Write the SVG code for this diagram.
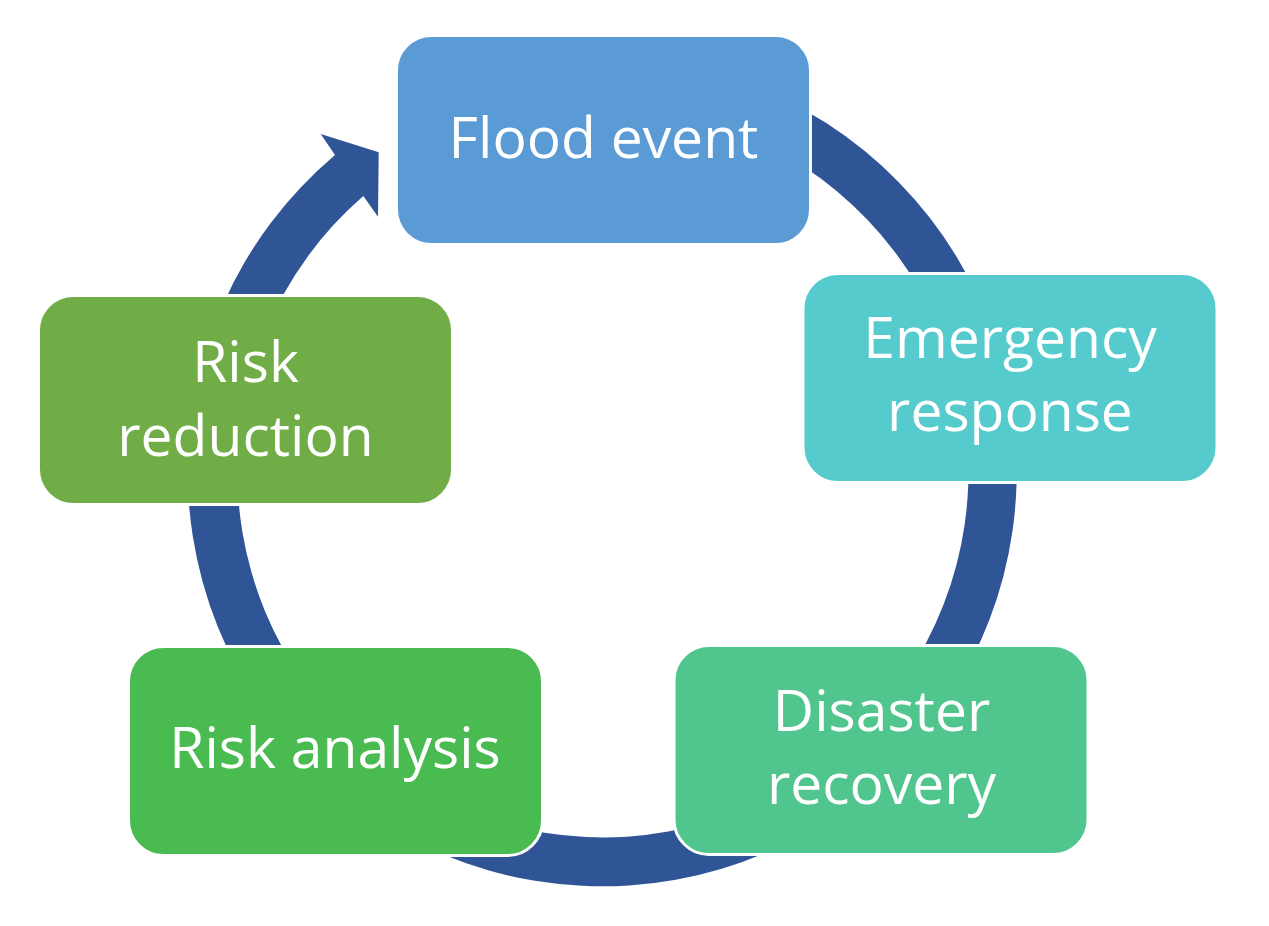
<svg xmlns="http://www.w3.org/2000/svg" width="1269" height="926" viewBox="0 0 1269 926">
<style>
.box{stroke:#FFFFFF;stroke-width:3}
.lbl{font-family:"Open Sans","Noto Sans","Liberation Sans",sans-serif;font-size:57px;fill:#FFFFFF;text-anchor:middle}
</style>
<rect x="0" y="0" width="1269" height="926" fill="#FFFFFF"/>
<g id="connectors">
<path d="M 650 60.1 A 414.5 414.5 0 1 1 335 155 L 320.7 134 L 378.7 152.3 L 378 216.7 L 363.3 196 A 365.5 365.5 0 1 0 650 109.5 Z" fill="#2F5597"/>
</g>
<g id="flood-event">
<rect class="box" x="396.5" y="35.5" width="414" height="209" rx="35" fill="#5B9BD5"/>
<text class="lbl" x="603.5" y="158">Flood event</text>
</g>
<g id="emergency-response">
<rect class="box" x="803" y="273.5" width="414" height="209" rx="35" fill="#55CBCD"/>
<text class="lbl" x="1010" y="358">Emergency</text>
<text class="lbl" x="1010" y="431">response</text>
</g>
<g id="disaster-recovery">
<rect class="box" x="674" y="645.5" width="414" height="209" rx="35" fill="#50C68E"/>
<text class="lbl" x="881.5" y="731">Disaster</text>
<text class="lbl" x="881.5" y="804">recovery</text>
</g>
<g id="risk-analysis">
<rect class="box" x="128.5" y="646.5" width="414" height="209" rx="35" fill="#4ABB51"/>
<text class="lbl" x="335" y="768">Risk analysis</text>
</g>
<g id="risk-reduction">
<rect class="box" x="38.5" y="295.5" width="414" height="209" rx="35" fill="#70AD47"/>
<text class="lbl" x="245.5" y="382">Risk</text>
<text class="lbl" x="245.5" y="456">reduction</text>
</g>
</svg>
